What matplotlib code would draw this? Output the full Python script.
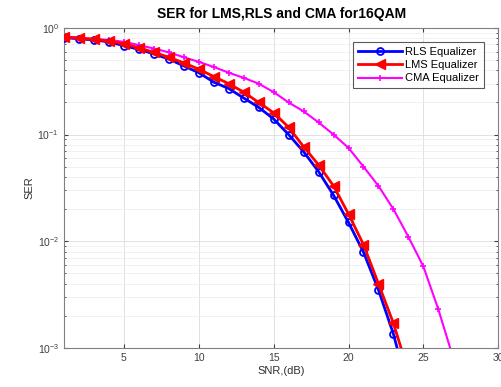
import matplotlib
matplotlib.use("Agg")
import matplotlib.pyplot as plt
import numpy as np

plt.rcParams['font.family'] = ['Liberation Sans', 'DejaVu Sans']

snr_rls = list(range(1, 25))
ser_rls = [0.81, 0.79, 0.77, 0.74, 0.68, 0.63, 0.57, 0.51, 0.44, 0.38,
           0.31, 0.27, 0.22, 0.18, 0.14, 0.10, 0.069, 0.045, 0.027, 0.015,
           0.0079, 0.0035, 0.00135, 0.0004]

snr_lms = list(range(1, 25))
ser_lms = [0.82, 0.80, 0.78, 0.75, 0.71, 0.65, 0.59, 0.53, 0.47, 0.41,
           0.35, 0.30, 0.25, 0.20, 0.16, 0.117, 0.077, 0.052, 0.033, 0.018,
           0.0093, 0.0040, 0.0017, 0.0006]

snr_cma = list(range(1, 28))
ser_cma = [0.83, 0.81, 0.79, 0.77, 0.74, 0.69, 0.64, 0.59, 0.53, 0.48,
           0.43, 0.38, 0.34, 0.30, 0.25, 0.20, 0.165, 0.13, 0.10, 0.075,
           0.05, 0.033, 0.020, 0.011, 0.0058, 0.0023, 0.0008]

fig = plt.figure(figsize=(5.02, 3.87), dpi=100)
ax = fig.add_axes([0.1275, 0.101, 0.865, 0.827])

ax.semilogy(snr_rls, ser_rls, color='#0000ff', lw=2, marker='o', ms=5,
            mfc='none', mec='#0000ff', mew=1.3, label='RLS Equalizer', zorder=3)
ax.semilogy(snr_lms, ser_lms, color='#ff0000', lw=2, marker='<', ms=7,
            mfc='#ff0000', mec='#ff0000', label='LMS Equalizer', zorder=4)
ax.semilogy(snr_cma, ser_cma, color='#ff00ff', lw=1.5, marker='+', ms=5,
            mew=1.2, label='CMA Equalizer', zorder=2)

ax.set_xlim(1, 30)
ax.set_ylim(1e-3, 1)
ax.set_xticks([5, 10, 15, 20, 25, 30])
ax.grid(True, which='major', color='#dcdcdc', lw=0.6)
ax.grid(True, which='minor', axis='y', color='#ececec', lw=0.5)
ax.tick_params(which='both', direction='in', top=True, right=True,
               labelsize=7.5, colors='#404040', length=3)
ax.tick_params(which='minor', length=1.5)
for s in ax.spines.values():
    s.set_color('#808080')

ax.set_title('SER for LMS,RLS and CMA for16QAM', fontsize=10, fontweight='bold', pad=7)
ax.set_xlabel('SNR,(dB)', fontsize=8, labelpad=2, color='#303030')
ax.set_ylabel('SER', fontsize=8, labelpad=2, color='#303030')

leg = ax.legend(loc='upper right', fontsize=8, frameon=True, fancybox=False,
                edgecolor='#303030', handlelength=4, borderpad=0.4,
                labelspacing=0.3, handletextpad=0.3, borderaxespad=1.3)
leg.get_frame().set_linewidth(0.8)

fig.savefig('out.png', dpi=100)
